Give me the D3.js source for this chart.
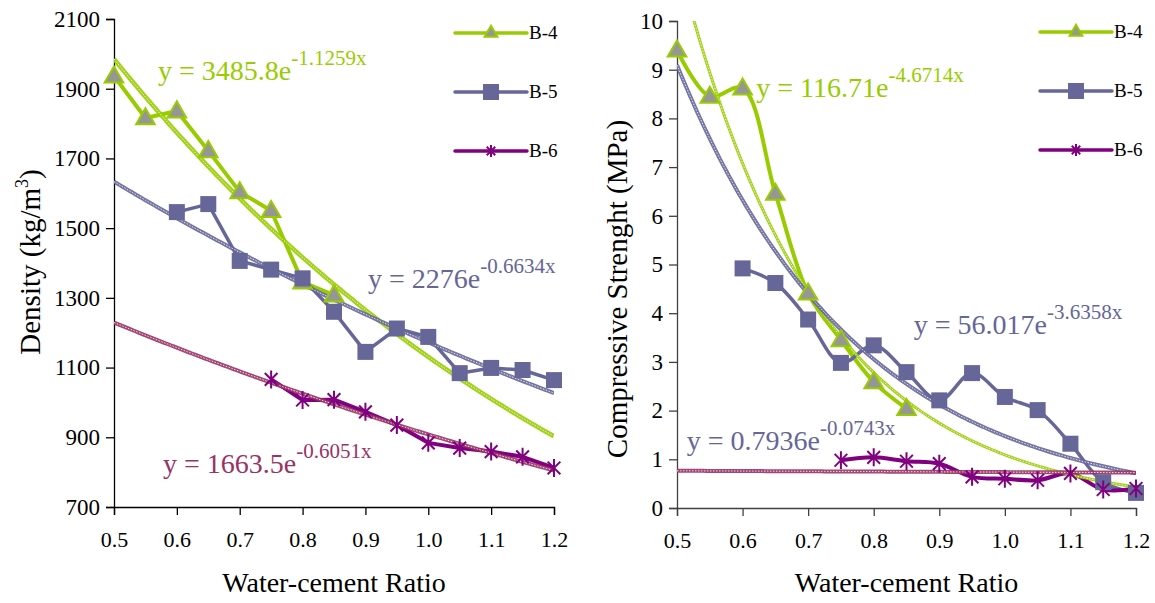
<!DOCTYPE html>
<meta charset="utf-8" />
<script src="https://d3js.org/d3.v7.min.js"></script>
<div id="warm" style="font-family:'Liberation Serif';position:absolute;left:0;top:0;color:#fff;font-size:20px;">Water-cement Ratio 0123456789</div>
<div id="chart"></div>
<script>
  // ---- data ----
  var ratios = [0.5, 0.55, 0.6, 0.65, 0.7, 0.75, 0.8, 0.85, 0.9, 0.95, 1.0, 1.05, 1.1, 1.15, 1.2];
  var seriesNames = ["B-4", "B-5", "B-6"];

  var densityB4 = [1936, 1816, 1836, 1722, 1604, 1550, 1345, 1308, null, null, null, null, null, null, null];
  var densityB5 = [null, null, 1546, 1569, 1406, 1381, 1356, 1260, 1145, 1212, 1188, 1084, 1099, 1093, 1064];
  var densityB6 = [null, null, null, null, null, 1066, 1007, 1008, 973, 935, 884, 869, 859, 844, 812];

  var strengthB4 = [9.40, 8.45, 8.62, 6.46, 4.41, 3.45, 2.59, 2.04, null, null, null, null, null, null, null];
  var strengthB5 = [null, null, 4.92, 4.62, 3.87, 2.98, 3.34, 2.79, 2.21, 2.77, 2.28, 2.01, 1.32, 0.53, 0.31];
  var strengthB6 = [null, null, null, null, null, 0.98, 1.04, 0.96, 0.91, 0.64, 0.60, 0.57, 0.71, 0.38, 0.40];

  // exponential trendlines y = a * e^(b x), as printed on the chart
  var densityTrendA = [3485.8, 2276, 1663.5];
  var densityTrendB = [-1.1259, -0.6634, -0.6051];
  var strengthTrendA = [116.71, 56.017, 0.7936];
  var strengthTrendB = [-4.6714, -3.6358, -0.0743];

  var densityEqBase = ["y = 3485.8e", "y = 2276e", "y = 1663.5e"];
  var densityEqExp = ["-1.1259x", "-0.6634x", "-0.6051x"];
  var strengthEqBase = ["y = 116.71e", "y = 56.017e", "y = 0.7936e"];
  var strengthEqExp = ["-4.6714x", "-3.6358x", "-0.0743x"];

  var xTicks = [0.5, 0.6, 0.7, 0.8, 0.9, 1.0, 1.1, 1.2];
  var densityTicks = [700, 900, 1100, 1300, 1500, 1700, 1900, 2100];
  var strengthTicks = [0, 1, 2, 3, 4, 5, 6, 7, 8, 9, 10];

  // ---- styling ----
  var lineColor = ["#99cc00", "#666699", "#800080"];
  var trendColor = ["#99cc00", "#666699", "#993366"];

  // body keeps its default 8px margin, so the drawing is shifted back by it
  var pageMargin = 8;
  var width = 1155, height = 603;
  var root = d3.select("#chart").append("svg")
    .attr("width", width - pageMargin).attr("height", height - pageMargin)
    .style("position", "absolute").style("left", pageMargin + "px").style("top", pageMargin + "px")
    .style("font-family", "'Liberation Serif'");
  var svg = root.append("g")
    .attr("transform", "translate(" + (-pageMargin) + "," + (-pageMargin) + ")");

  // every text gets the serif face both as attribute and inline style
  function serifText(sel, size) {
    return sel.attr("font-family", "Liberation Serif")
      .style("font-family", "'Liberation Serif'")
      .attr("font-size", size);
  }

  var starPath = function(r) {
    var d = r * 0.707;
    return "M0," + (-r) + "L0," + r +
      "M" + (-d) + "," + (-d) + "L" + d + "," + d +
      "M" + (-d) + "," + d + "L" + d + "," + (-d);
  };

  function drawMarker(g, i, x, y, big) {
    if (i === 0) {
      g.append("path")
        .attr("transform", "translate(" + x + "," + (y + (big ? 1 : 0)) + ")")
        .attr("d", d3.symbol(d3.symbolTriangle).size(big ? 150 : 70)())
        .attr("fill", "#969696").attr("stroke", lineColor[0]).attr("stroke-width", 2);
    } else if (i === 1) {
      var s = 16;
      g.append("rect")
        .attr("x", x - s / 2).attr("y", y - s / 2).attr("width", s).attr("height", s)
        .attr("fill", lineColor[1]);
    } else {
      g.append("path")
        .attr("transform", "translate(" + x + "," + y + ")")
        .attr("d", starPath(big ? 9 : 6))
        .attr("fill", "none").attr("stroke", lineColor[2]).attr("stroke-width", 2);
    }
  }

  function drawPanel(p) {
    var x = d3.scaleLinear().domain([0.5, 1.2]).range([p.left, p.right]);
    var y = d3.scaleLinear().domain(p.yDomain).range([p.bottom, p.top]);
    var g = svg.append("g");

    var clipId = "clip" + p.id;
    svg.append("clipPath").attr("id", clipId).append("rect")
      .attr("x", p.left).attr("y", p.top)
      .attr("width", p.right - p.left).attr("height", p.bottom - p.top);

    // axes
    g.append("g")
      .attr("transform", "translate(" + p.left + ",0)")
      .call(d3.axisLeft(y).tickValues(p.yTicks).tickSize(8).tickPadding(6)
        .tickFormat(d3.format("d")))
      .call(function(a) {
        a.attr("font-family", null).attr("font-size", null);
        a.selectAll("path, line").attr("stroke", p.axisColor).attr("stroke-width", 1.3);
        serifText(a.selectAll("text"), 23).attr("fill", "#000");
      });
    g.append("g")
      .attr("transform", "translate(0," + p.bottom + ")")
      .call(d3.axisBottom(x).tickValues(xTicks).tickSize(8).tickPadding(16)
        .tickFormat(d3.format(".1f")))
      .call(function(a) {
        a.attr("font-family", null).attr("font-size", null);
        a.selectAll("path, line").attr("stroke", p.axisColor).attr("stroke-width", 1.3);
        serifText(a.selectAll("text"), 22).attr("fill", "#000");
      });

    // axis titles
    serifText(g.append("text"), 28)
      .attr("x", (p.left + p.right) / 2).attr("y", 592)
      .attr("text-anchor", "middle")
      .text("Water-cement Ratio");
    var yt = serifText(g.append("text"), 29)
      .attr("transform", "translate(" + p.titleX + "," + p.titleY + ") rotate(-90)")
      .attr("text-anchor", "middle");
    yt.append("tspan").text(p.yTitle[0]);
    if (p.yTitle[1]) {
      yt.append("tspan").attr("font-size", 18).attr("dy", -12).text(p.yTitle[1]);
      yt.append("tspan").attr("dy", 12).text(p.yTitle[2]);
    }

    var plot = g.append("g").attr("clip-path", "url(#" + clipId + ")");

    // data series
    p.series.forEach(function(vals, i) {
      var pts = ratios.map(function(r, k) { return [r, vals[k]]; })
        .filter(function(d) { return d[1] != null; });
      plot.append("path")
        .attr("d", d3.line()
          .x(function(d) { return x(d[0]); })
          .y(function(d) { return y(d[1]); })
          .curve(p.curve)(pts))
        .attr("fill", "none").attr("stroke", lineColor[i])
        .attr("stroke-width", p.lineWidth[i]).attr("stroke-linejoin", "round");
      pts.forEach(function(d) { drawMarker(g, i, x(d[0]), y(d[1]), true); });
    });

    // trendlines
    var xs = d3.range(0.5, 1.2001, 0.005);
    p.trendA.forEach(function(a, i) {
      var b = p.trendB[i];
      var line = d3.line()
        .x(function(v) { return x(v); })
        .y(function(v) { return y(a * Math.exp(b * v)); });
      plot.append("path").attr("d", line(xs))
        .attr("fill", "none").attr("stroke", trendColor[i])
        .attr("stroke-width", p.trendWidth[i]).attr("stroke-opacity", 0.9);
      plot.append("path").attr("d", line(xs))
        .attr("fill", "none").attr("stroke", "#fff")
        .attr("stroke-width", 1).attr("stroke-dasharray", "1.5,1.5")
        .attr("stroke-opacity", 0.8);
    });

    // equation labels
    p.eqBase.forEach(function(t, i) {
      var pos = p.eqPos[i];
      var txt = serifText(g.append("text"), 28)
        .attr("x", x(pos[0])).attr("y", y(pos[1]))
        .attr("fill", p.eqColor[i]);
      txt.append("tspan").text(t);
      txt.append("tspan").attr("font-size", 21).attr("dy", -15).text(p.eqExp[i]);
    });

    // legend
    seriesNames.forEach(function(name, i) {
      var ly = p.legendY + i * 59;
      g.append("line")
        .attr("x1", p.legendX).attr("x2", p.legendX + 72)
        .attr("y1", ly).attr("y2", ly)
        .attr("stroke", lineColor[i]).attr("stroke-width", 3.5)
        .attr("stroke-linecap", "round");
      drawMarker(g, i, p.legendX + 36, ly, false);
      serifText(g.append("text"), 19)
        .attr("x", p.legendX + 74).attr("y", ly + 6)
        .text(name);
    });
  }

  drawPanel({
    id: "L", left: 114, right: 554, top: 19, bottom: 507,
    yDomain: [700, 2100], yTicks: densityTicks, axisColor: "#000",
    yTitle: ["Density (kg/m", "3", ")"], titleX: 40, titleY: 262,
    series: [densityB4, densityB5, densityB6],
    curve: d3.curveLinear, lineWidth: [4, 3.5, 4],
    trendA: densityTrendA, trendB: densityTrendB, trendWidth: [4.5, 4, 4],
    eqBase: densityEqBase, eqExp: densityEqExp,
    eqColor: ["#99cc00", "#666699", "#993366"],
    eqPos: [[0.570, 1925], [0.904, 1328], [0.578, 798]],
    legendX: 455, legendY: 33
  });

  drawPanel({
    id: "R", left: 677, right: 1136, top: 21, bottom: 508,
    yDomain: [0, 10], yTicks: strengthTicks, axisColor: "#404040",
    yTitle: ["Compressive Strenght (MPa)"], titleX: 627, titleY: 289,
    series: [strengthB4, strengthB5, strengthB6],
    curve: d3.curveCatmullRom.alpha(0.5), lineWidth: [4, 3.5, 4],
    trendA: strengthTrendA, trendB: strengthTrendB, trendWidth: [3, 4, 4],
    eqBase: strengthEqBase, eqExp: strengthEqExp,
    eqColor: ["#99cc00", "#666699", "#666699"],
    eqPos: [[0.621, 8.44], [0.861, 3.57], [0.515, 1.19]],
    legendX: 1040, legendY: 32
  });

  // re-apply the face once fonts are ready, in case the first paint fell back
  if (document.fonts && document.fonts.ready) {
    document.fonts.ready.then(function() {
      root.selectAll("text").style("font-family", "'Liberation Serif', serif");
    });
  }
</script>
